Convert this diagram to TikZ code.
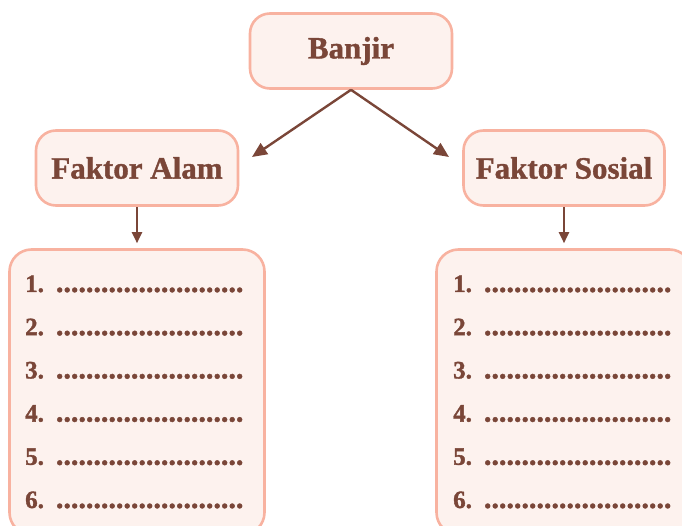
\documentclass[tikz,border=0pt]{standalone}
\usepackage{fontspec}
\setmainfont{Liberation Serif}
\usepackage{tikz}
\usetikzlibrary{arrows.meta}

\definecolor{txtbrown}{HTML}{7A4638}
\definecolor{boxline}{HTML}{F8B2A0}
\definecolor{boxfill}{HTML}{FDF2EE}

\newcommand{\dotrow}{\foreach \d in {1,...,25}{\makebox[7.5pt][c]{\fontsize{30}{30}\selectfont.}}}

\tikzset{
	head/.style = {draw = boxline, fill = boxfill, line width = 2.6pt, rounded corners = 20pt,
		minimum width = 202pt, minimum height = 75pt, inner sep = 0pt,
		text = txtbrown, font = \fontsize{31}{36}\selectfont\bfseries\addfontfeature{FakeBold=1.2}},
	listbox/.style = {draw = boxline, fill = boxfill, line width = 2.6pt, rounded corners = 22pt,
		minimum width = 255pt, minimum height = 285pt, inner sep = 0pt},
	item/.style = {anchor = base west, inner sep = 0pt, text = txtbrown,
		font = \fontsize{25}{30}\selectfont\bfseries\addfontfeature{FakeBold=1.5}},
	bigarrow/.style = {draw = txtbrown, line width = 2.4pt, -{Triangle[length=15pt, width=13pt]}},
	smallarrow/.style = {draw = txtbrown, line width = 2pt, -{Triangle[length=11pt, width=10pt]}}
}

\begin{document}
\begin{tikzpicture}[x = 1pt, y = -1pt]
	\useasboundingbox (0,0) rectangle (682,526);

	\node [head] (banjir) at (351,51) {Banjir};
	\node [head] (alam) at (137,168) {Faktor Alam};
	\node [head, minimum width = 201pt] (sosial) at (564,168) {Faktor Sosial};

	\node [listbox] (listalam) at (137,392) {};
	\node [listbox] (listsosial) at (564,392) {};

	\coordinate (alamin) at (252,157);
	\coordinate (sosialin) at (449,157);
	\draw [bigarrow] (banjir.south) -- (alamin);
	\draw [bigarrow] (banjir.south) -- (sosialin);
	\draw [smallarrow] (alam.south) -- ([yshift = 5pt] listalam.north);
	\draw [smallarrow] (sosial.south) -- ([yshift = 5pt] listsosial.north);

	\node [item] (a1) at (25,292) {1.\hspace{12pt}\dotrow};
	\node [item] (a2) at (25,335.2) {2.\hspace{12pt}\dotrow};
	\node [item] (a3) at (25,378.4) {3.\hspace{12pt}\dotrow};
	\node [item] (a4) at (25,421.6) {4.\hspace{12pt}\dotrow};
	\node [item] (a5) at (25,464.8) {5.\hspace{12pt}\dotrow};
	\node [item] (a6) at (25,508) {6.\hspace{12pt}\dotrow};

	\node [item] (s1) at (453,292) {1.\hspace{12pt}\dotrow};
	\node [item] (s2) at (453,335.2) {2.\hspace{12pt}\dotrow};
	\node [item] (s3) at (453,378.4) {3.\hspace{12pt}\dotrow};
	\node [item] (s4) at (453,421.6) {4.\hspace{12pt}\dotrow};
	\node [item] (s5) at (453,464.8) {5.\hspace{12pt}\dotrow};
	\node [item] (s6) at (453,508) {6.\hspace{12pt}\dotrow};

\end{tikzpicture}
\end{document}
